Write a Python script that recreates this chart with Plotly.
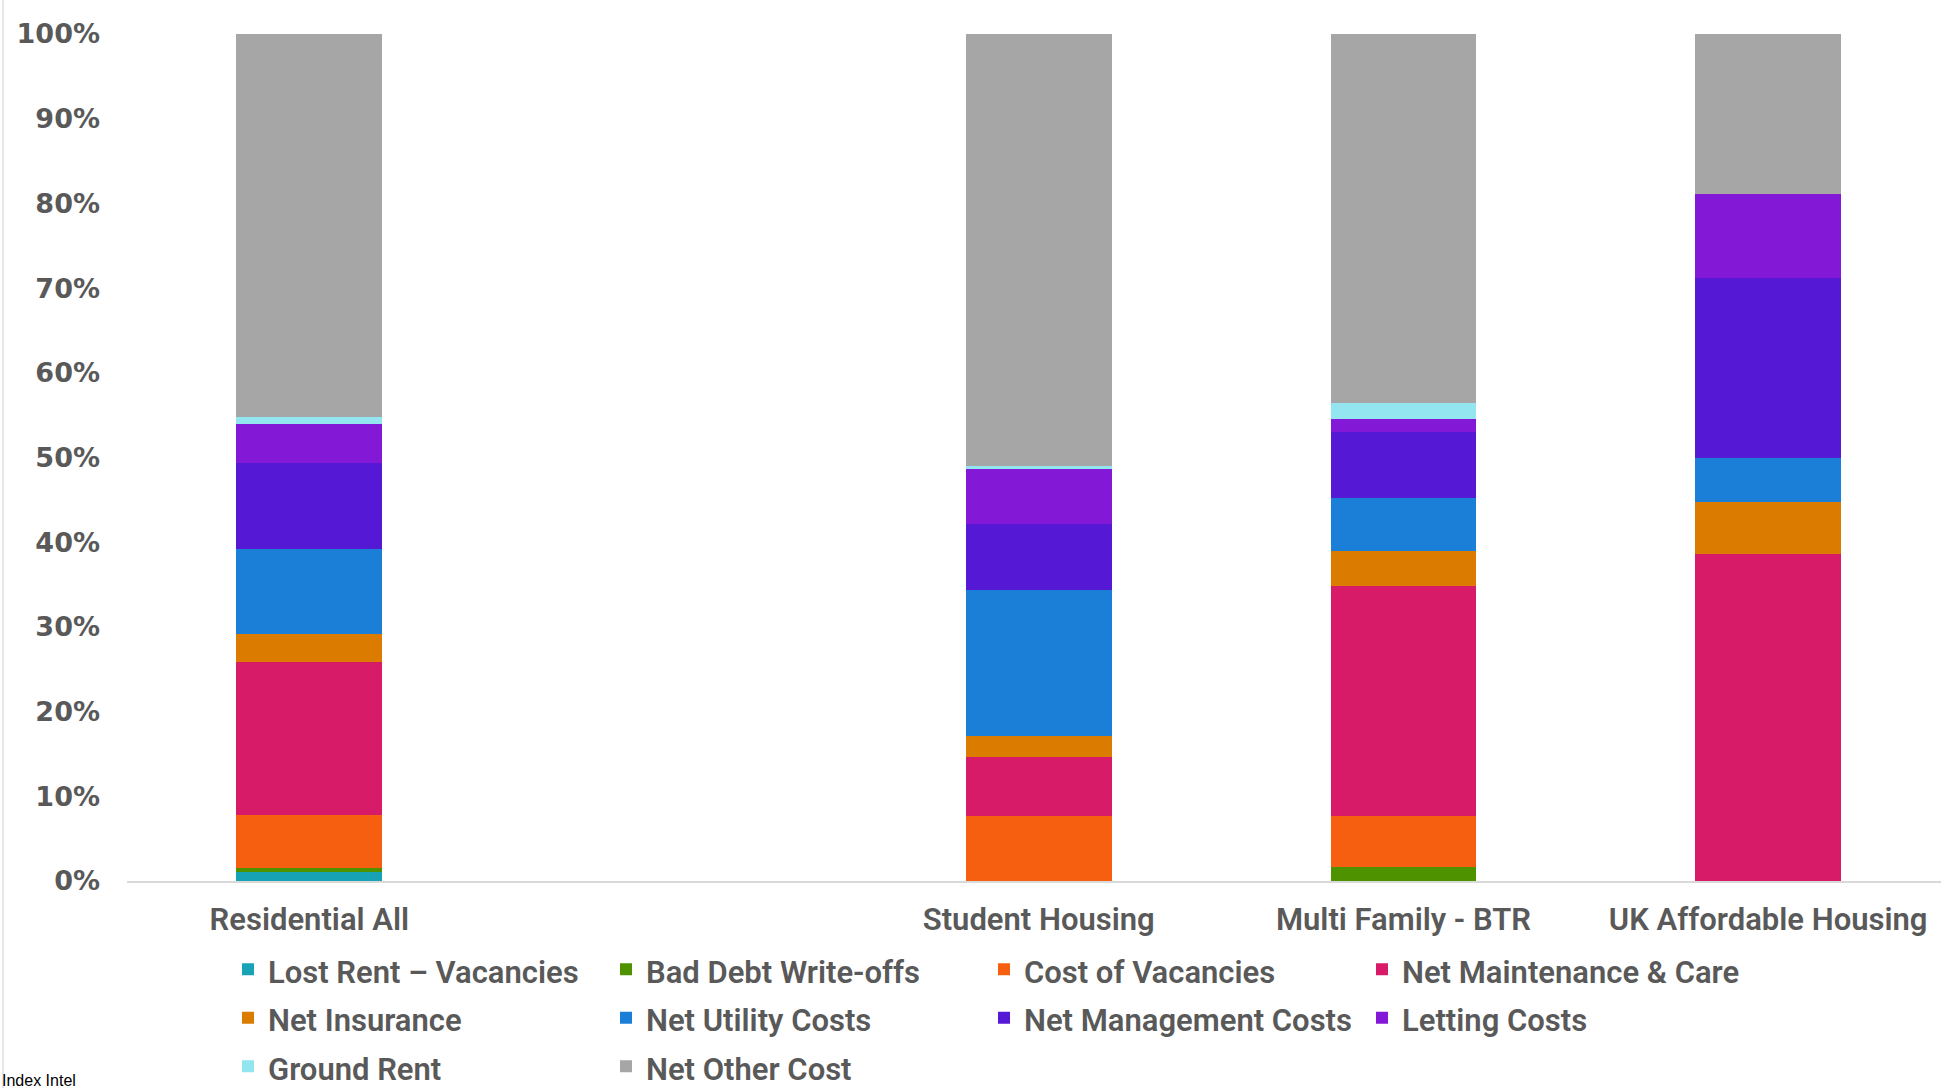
import plotly.graph_objects as go

categories = ["Residential All", " ", "Student Housing", "Multi Family - BTR", "UK Affordable Housing"]

series_names = [
    "Lost Rent – Vacancies", "Bad Debt Write-offs", "Cost of Vacancies", "Net Maintenance & Care",
    "Net Insurance", "Net Utility Costs", "Net Management Costs", "Letting Costs",
    "Ground Rent", "Net Other Cost",
]

lost_rent   = [1.1,  None, 0.0,  0.0,  0.0]
bad_debt    = [0.4,  None, 0.0,  1.6,  0.0]
cost_vac    = [6.3,  None, 7.7,  6.1,  0.0]
maintenance = [18.1, None, 6.9,  27.1, 38.6]
insurance   = [3.3,  None, 2.5,  4.2,  6.1]
utility     = [10.0, None, 17.2, 6.2,  5.3]
management  = [10.1, None, 7.8,  7.8,  21.2]
letting     = [4.7,  None, 6.5,  1.5,  9.9]
ground_rent = [0.8,  None, 0.4,  1.9,  0.0]
other       = [45.2, None, 51.0, 43.6, 18.9]

series_values = [lost_rent, bad_debt, cost_vac, maintenance, insurance,
                 utility, management, letting, ground_rent, other]

colors = ["#17A3B5", "#4F9200", "#F65F0F", "#D81B69", "#DB7B00",
          "#1B7ED7", "#5519D6", "#8319D7", "#93E5F0", "#A6A6A6"]

W, H = 1941, 1088
ML, MT, MB = 127, 34, 207
TXT = "#595959"
LABEL_SIZE = 31

fig = go.Figure()
for name, vals, col in zip(series_names, series_values, colors):
    fig.add_trace(go.Bar(
        x=categories, y=vals,
        name=f'<span style="font-size:{LABEL_SIZE}px">{name}</span>',
        marker=dict(color=col, line=dict(width=0)),
    ))

fig.update_layout(
    width=W, height=H,
    barmode="stack", bargap=0.6,
    plot_bgcolor="white", paper_bgcolor="white",
    margin=dict(l=ML, r=0, t=MT, b=MB),
    font=dict(family="Roboto", color=TXT),
    showlegend=True,
    legend=dict(
        orientation="h", traceorder="normal",
        xref="container", yref="container",
        x=228 / W, y=1 - 940 / H, xanchor="left", yanchor="top",
        entrywidth=333, entrywidthmode="pixels",
        font=dict(family="Roboto", size=35, color=TXT, weight=600),
        itemwidth=30, tracegroupgap=0,
    ),
    xaxis=dict(
        type="category", categoryorder="array", categoryarray=categories,
        range=[-0.5, 4.474],
        showline=True, linecolor="#D9D9D9", linewidth=2,
        ticks="", showgrid=False,
        tickfont=dict(family="Roboto", size=LABEL_SIZE, color=TXT, weight=600),
        ticklabelstandoff=10,
    ),
    yaxis=dict(
        range=[0, 100], dtick=10, ticksuffix="%",
        showgrid=False, zeroline=False, showline=False, ticks="",
        tickfont=dict(family="DejaVu Sans", size=27, color=TXT, weight="bold"),
        ticklabelstandoff=26,
    ),
)

# outer left border line of the chart
fig.add_shape(type="line", xref="paper", yref="paper",
              x0=-(ML - 3) / (W - ML), x1=-(ML - 3) / (W - ML),
              y0=-MB / (H - MT - MB), y1=1 + MT / (H - MT - MB),
              line=dict(color="#D0D0D0", width=1))

fig.add_annotation(
    text="Index Intel", xref="paper", yref="paper",
    x=-(ML - 0) / (W - ML), y=-(1080 - (H - MB)) / (H - MT - MB),
    xanchor="left", yanchor="middle", showarrow=False,
    font=dict(family="Liberation Sans", size=16, color="#000000"),
)

fig.write_html("out.html")
